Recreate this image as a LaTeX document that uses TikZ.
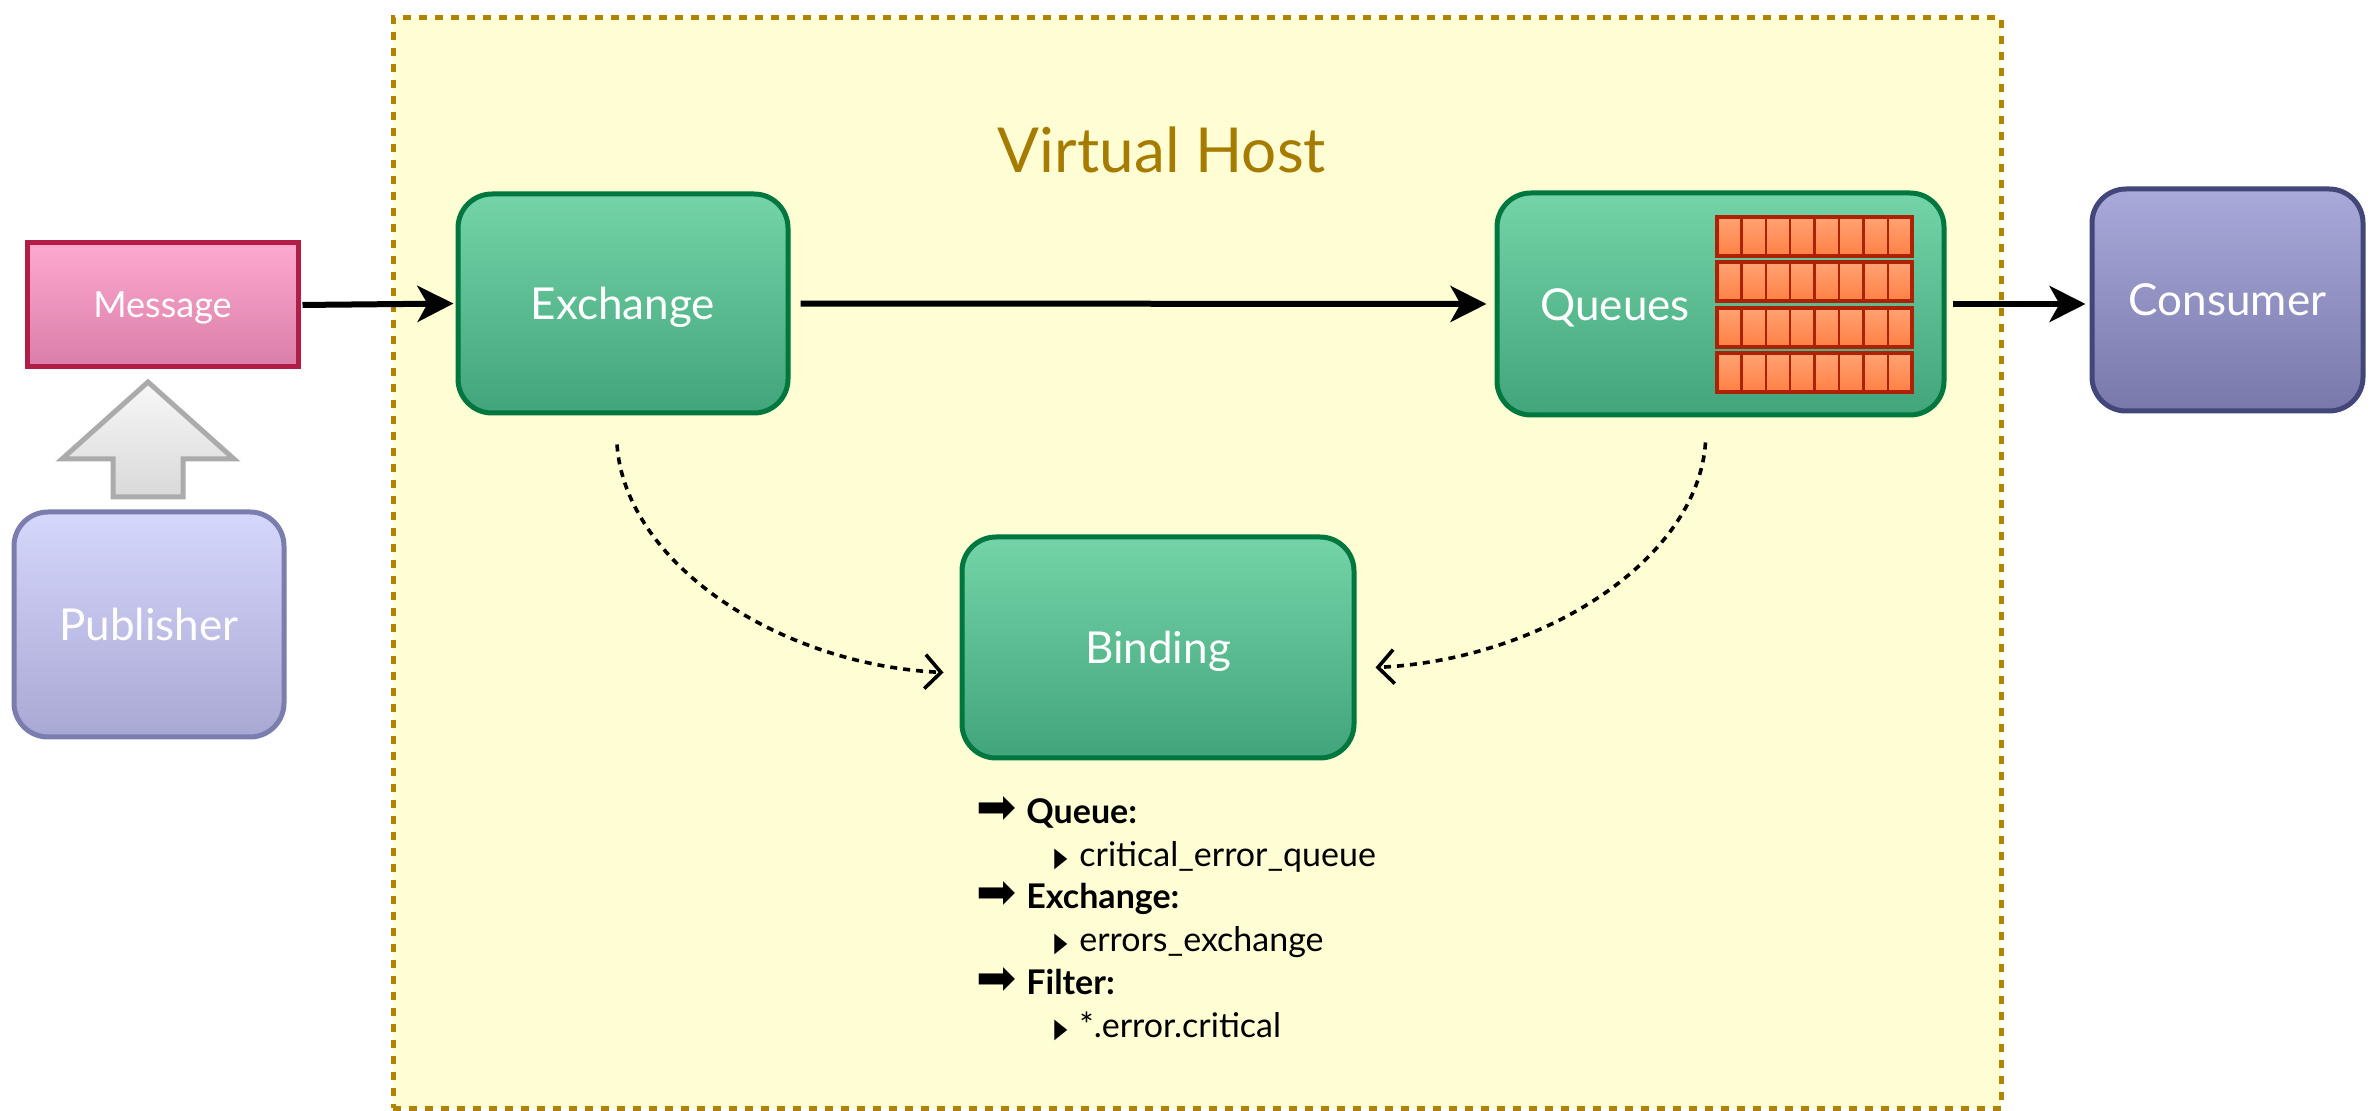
\documentclass[tikz,border=0pt]{standalone}
\usepackage{fontspec}
\setmainfont{Lato}
\newfontfamily\symfont{DejaVu Sans}
\usetikzlibrary{arrows.meta,positioning}
\definecolor{hostfill}{HTML}{FFFDD3}
\definecolor{hostline}{HTML}{B08300}
\definecolor{hosttext}{HTML}{A67C00}
\definecolor{greentop}{HTML}{74D4A8}
\definecolor{greenbot}{HTML}{42A47B}
\definecolor{greenline}{HTML}{00773F}
\definecolor{msgtop}{HTML}{FDA9CF}
\definecolor{msgbot}{HTML}{D97EA8}
\definecolor{msgline}{HTML}{B21D48}
\definecolor{pubtop}{HTML}{D6D7FC}
\definecolor{pubbot}{HTML}{A8A8D4}
\definecolor{publine}{HTML}{7B7DAE}
\definecolor{constop}{HTML}{A9A9DA}
\definecolor{consbot}{HTML}{7978AA}
\definecolor{consline}{HTML}{424678}
\definecolor{celltop}{HTML}{FFA373}
\definecolor{cellbot}{HTML}{FF8045}
\definecolor{cellline}{HTML}{AD2104}
\newcommand{\bindhead}{\makebox[25pt][l]{\smash{\symfont\fontsize{24}{24}\selectfont ➡}}}
\newcommand{\bindsub}{\hspace*{39pt}\makebox[12.5pt][l]{\symfont\scalebox{0.5}[0.8]{▶}}}
\tikzset{
    box/.style={draw,line width=2.5pt,rounded corners=17pt,inner sep=0pt,text=white,font=\fontsize{22}{26}\selectfont,text height=16pt,text depth=0pt},
    greenbox/.style={box,draw=greenline,top color=greentop,bottom color=greenbot},
    msgbox/.style={box,rounded corners=0pt,draw=msgline,top color=msgtop,bottom color=msgbot,font=\fontsize{18}{22}\selectfont,text height=13pt},
    pubbox/.style={box,draw=publine,top color=pubtop,bottom color=pubbot},
    consbox/.style={box,draw=consline,top color=constop,bottom color=consbot},
    hostbox/.style={draw=hostline,fill=hostfill,line width=2.5pt,dash pattern=on 4pt off 4pt,inner sep=0pt},
    liftarrow/.style={draw=black!33,line width=2.5pt,top color=black!3,bottom color=black!15},
    cell/.style={draw=cellline,line width=1.2pt,top color=celltop,bottom color=cellbot},
    cellrow/.style={draw=cellline,line width=2pt},
    flow/.style={line width=3pt,-{Stealth[length=18pt,width=18pt,inset=5pt]}},
    bindflow/.style={line width=1.8pt,dash pattern=on 3.5pt off 3pt,-{Straight Barb[length=8pt,width=17pt]}}
}
\begin{document}
\begin{tikzpicture}[x=0.5pt,y=-0.5pt]
    \useasboundingbox (0,0) rectangle (2372,1111);
    \node[hostbox,minimum width=804pt,minimum height=545pt] (vhost) at (1197,563) {};
    \node[text=hosttext,font=\fontsize{31}{36}\selectfont] (vhosttitle) at (1162,150) {Virtual Host};
    \node[msgbox,minimum width=135.5pt,minimum height=62pt] (msg) at (162.5,305) {Message};
    \node[pubbox,minimum width=135pt,minimum height=112.5pt] (pub) at (149,624.5) {Publisher};
    \node[greenbox,minimum width=165pt,minimum height=109.5pt] (exch) at (623,303.5) {Exchange};
    \node[greenbox,minimum width=223.5pt,minimum height=111pt] (queues) at (1720.5,304) {};
    \node[text=white,font=\fontsize{22}{26}\selectfont,text height=16pt,text depth=0pt] (queuestext) at (1615,305) {Queues};
    \node[consbox,minimum width=135.5pt,minimum height=111pt] (consumer) at (2227.5,300) {Consumer};
    \node[greenbox,minimum width=196pt,minimum height=110.5pt] (binding) at (1158,647.5) {Binding};
    \foreach \r in {0,...,3} {
        \foreach \c in {0,...,7}
            \draw[cell] ({1717+24.4*\c},{217+45.3*\r}) rectangle ++(24.4,39);
        \draw[cellrow] (1717,{217+45.3*\r}) rectangle ++(195.2,39);
    }
    \draw[liftarrow] (113,497) -- (113,459) -- (62,459) -- (148,382) -- (234,459) -- (183,459) -- (183,497) -- cycle;
    \draw[flow,shorten <=1pt,shorten >=1pt] (msg.east) -- (exch.west);
    \draw[flow,shorten <=5pt,shorten >=4pt] (exch.east) -- (queues.west);
    \draw[flow,shorten <=3pt,shorten >=2pt] (queues.east) -- (queues.east -| consumer.west);
    \draw[bindflow] ([xshift=-3pt,yshift=-14.5pt]exch.south) .. controls +(8,118) and +(-166,-8) .. ([xshift=-8pt,yshift=-12.5pt]binding.west);
    \draw[bindflow] ([xshift=-7.5pt,yshift=-12.5pt]queues.south) .. controls +(-8,118) and +(166,-8) .. ([xshift=9.5pt,yshift=-10pt]binding.east);
    \node[anchor=north west,inner sep=0pt,align=left,font=\fontsize{17}{21.4}\selectfont] (bindlist) at (976,798) {%
        \bindhead\textbf{Queue:}\\
        \bindsub critical\_error\_queue\\
        \bindhead\textbf{Exchange:}\\
        \bindsub errors\_exchange\\
        \bindhead\textbf{Filter:}\\
        \bindsub *.error.critical};
\end{tikzpicture}
\end{document}
